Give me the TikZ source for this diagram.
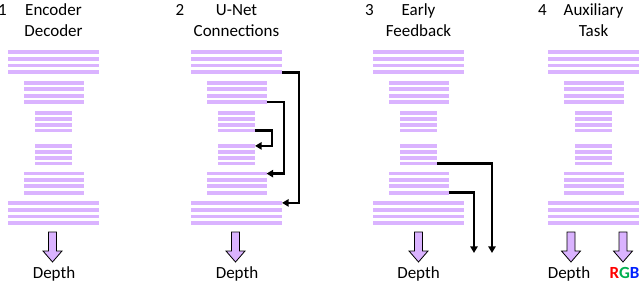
\documentclass[tikz,border=0pt]{standalone}
\usepackage{fontspec}
\setmainfont{Carlito}
\usetikzlibrary{arrows.meta,positioning}
\definecolor{barpurple}{RGB}{218,179,255}
\definecolor{rgbgreen}{RGB}{0,176,80}
\definecolor{rgbblue}{RGB}{0,32,255}
\newcommand{\outarrow}[1]{\draw[outbox] (#1-4,232) -- (#1+4,232) -- (#1+4,251) -- (#1+9.5,251) -- (#1,262) -- (#1-9.5,251) -- (#1-4,251) -- cycle;}
\tikzset{
    featbar/.style={rectangle,fill=barpurple,inner sep=0pt,outer sep=0pt,minimum height=2.85pt},
    paneltitle/.style={anchor=base,inner sep=0pt,font=\fontsize{12.75}{15}\selectfont},
    outbox/.style={fill=barpurple,draw=black,line width=0.6pt},
    skipline/.style={-{Triangle[length=5pt,width=5.5pt]},line width=2pt}
}
\begin{document}
\begin{tikzpicture}[x=0.75pt,y=-0.75pt]
    \useasboundingbox (0,0) rectangle (640,285);
    % feature bars, blocks a-c encoder, d-f decoder
    \foreach \p/\px in {1/8,2/191,3/373,4/548}{
        \foreach \blk/\top/\w/\pitch in {a/50/91/6.8,b/81/60/6.4,c/111/37/5.9,d/144/37/5.9,e/171.7/60/6.4,f/201/91/6.8}{
            \foreach \k in {1,...,4}{
                \node[featbar,minimum width={\w*0.75pt}] (p\p\blk\k) at (\px+45.5,{\top+1.9+(\k-1)*\pitch}) {};
            }
        }
    }
    \node[paneltitle] (num1) at (2.5,16) {1};
    \node[paneltitle] (title1a) at (53.5,16) {Encoder};
    \node[paneltitle] (title1b) at (53.5,36.5) {Decoder};
    \node[paneltitle] (num2) at (180,16) {2};
    \node[paneltitle] (title2a) at (236.5,16) {U-Net};
    \node[paneltitle] (title2b) at (236.5,36.5) {Connections};
    \node[paneltitle] (num3) at (369.5,16) {3};
    \node[paneltitle] (title3a) at (418.5,16) {Early};
    \node[paneltitle] (title3b) at (418.5,36.5) {Feedback};
    \node[paneltitle] (num4) at (542.5,16) {4};
    \node[paneltitle] (title4a) at (593.5,16) {Auxiliary};
    \node[paneltitle] (title4b) at (593.5,36.5) {Task};
    % skip connections
    \draw[skipline] (p2a4.east) -- ++(17,0) |- (p2f1.east);
    \draw[skipline] (p2b4.east) -- ++(17.5,0) |- (p2e1.east);
    \draw[skipline] (p2c4.east) -- ++(17,0) |- (p2d1.east);
    % early outputs
    \coordinate (p3tip1) at (474,253);
    \coordinate (p3tip2) at (492,253);
    \draw[skipline] (p3e4.east) -| (p3tip1);
    \draw[skipline] (p3d4.east) -| (p3tip2);
    % outputs
    \outarrow{52.5}
    \outarrow{235.5}
    \outarrow{418.5}
    \outarrow{571}
    \outarrow{623}
    \node[paneltitle] (depth1) at (54,278) {Depth};
    \node[paneltitle] (depth2) at (237,278) {Depth};
    \node[paneltitle] (depth3) at (418.5,278) {Depth};
    \node[paneltitle] (depth4) at (569,278) {Depth};
    \node[paneltitle] (rgb4) at (624.5,278) {\bfseries\textcolor{red}{R}\textcolor{rgbgreen}{G}\textcolor{rgbblue}{B}};
\end{tikzpicture}
\end{document}
